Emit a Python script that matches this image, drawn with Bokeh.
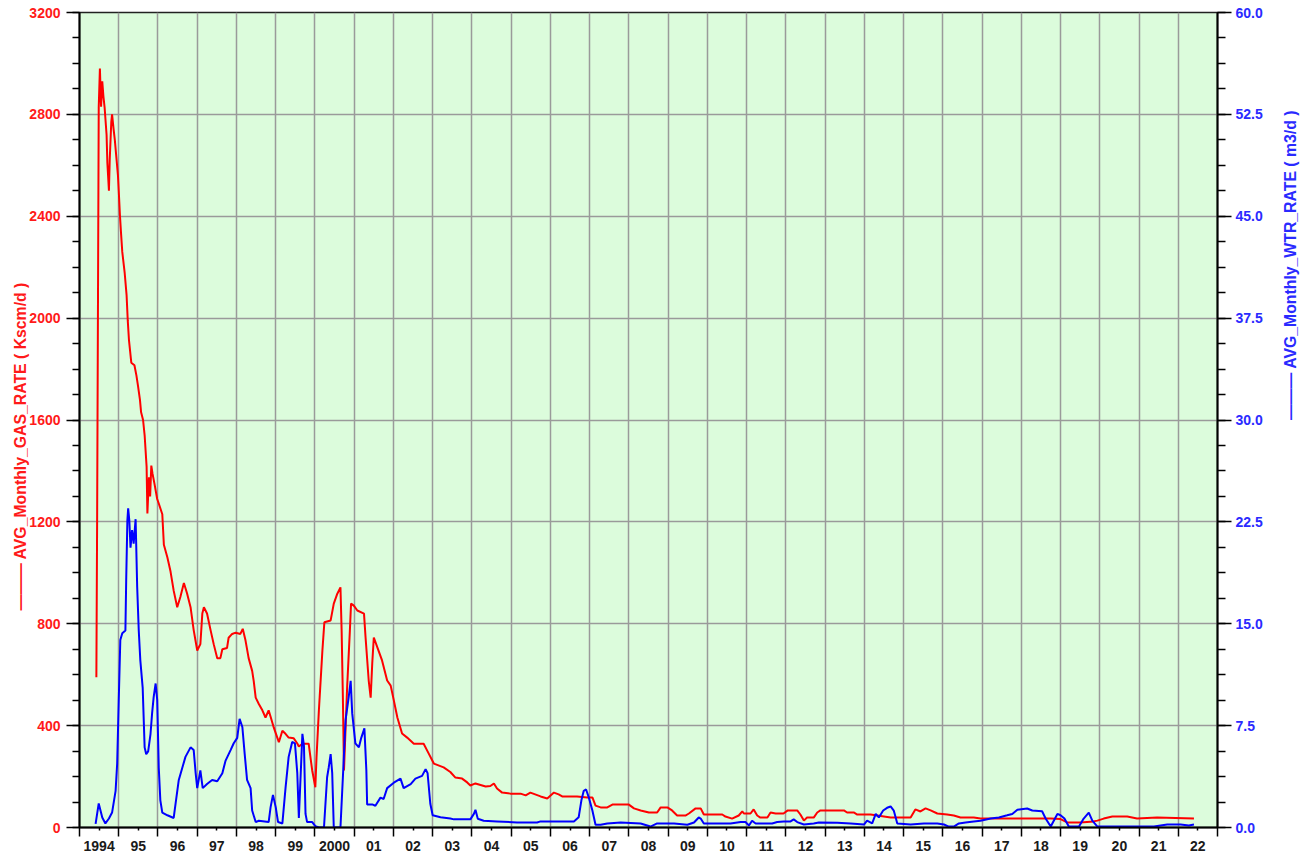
import math
from bokeh.plotting import figure
from bokeh.models import Range1d, LinearAxis, FixedTicker, PrintfTickFormatter
from bokeh.embed import file_html
from bokeh.resources import INLINE

# ---------------- data ----------------
gas_year = [1994.43, 1994.45, 1994.47, 1994.49, 1994.52, 1994.55, 1994.58, 1994.61, 1994.64, 1994.69,
            1994.71, 1994.75, 1994.77, 1994.81, 1994.83, 1994.87, 1994.90, 1994.94, 1994.98, 1995.00,
            1995.03, 1995.06, 1995.09, 1995.15, 1995.20, 1995.23, 1995.26, 1995.32, 1995.40, 1995.45,
            1995.49, 1995.54, 1995.57, 1995.62, 1995.66, 1995.71, 1995.73, 1995.77, 1995.80, 1995.83,
            1995.86, 1995.91, 1995.98, 1996.02, 1996.11, 1996.15, 1996.24, 1996.32, 1996.40, 1996.49,
            1996.57, 1996.66, 1996.74, 1996.83, 1996.91, 1997.00, 1997.08, 1997.13, 1997.17, 1997.25,
            1997.34, 1997.42, 1997.51, 1997.59, 1997.64, 1997.76, 1997.80, 1997.89, 1997.98, 1998.10,
            1998.16, 1998.23, 1998.31, 1998.40, 1998.44, 1998.49, 1998.57, 1998.66, 1998.74, 1998.82,
            1998.87, 1998.95, 1999.04, 1999.08, 1999.17, 1999.25, 1999.33, 1999.46, 1999.55, 1999.59,
            1999.68, 1999.80, 1999.84, 1999.93, 2000.01, 2000.04, 2000.10, 2000.19, 2000.24, 2000.40,
            2000.48, 2000.57, 2000.65, 2000.68, 2000.71, 2000.74, 2000.82, 2000.89, 2000.92, 2000.99,
            2001.08, 2001.25, 2001.29, 2001.37, 2001.42, 2001.46, 2001.50, 2001.59, 2001.71, 2001.84,
            2001.93, 2002.01, 2002.10, 2002.22, 2002.35, 2002.52, 2002.77, 2002.90, 2003.03, 2003.28,
            2003.45, 2003.58, 2003.75, 2003.88, 2003.96, 2004.09, 2004.35, 2004.47, 2004.56, 2004.64,
            2004.77, 2004.98, 2005.24, 2005.37, 2005.49, 2005.75, 2005.92, 2006.09, 2006.21, 2006.30,
            2006.68, 2006.94, 2007.07, 2007.15, 2007.28, 2007.45, 2007.58, 2008.00, 2008.13, 2008.30,
            2008.51, 2008.72, 2008.81, 2008.98, 2009.10, 2009.23, 2009.44, 2009.53, 2009.70, 2009.83,
            2009.91, 2010.38, 2010.46, 2010.63, 2010.80, 2010.89, 2010.93, 2011.10, 2011.18, 2011.27,
            2011.35, 2011.53, 2011.61, 2011.74, 2011.94, 2012.05, 2012.29, 2012.37, 2012.46, 2012.54,
            2012.71, 2012.80, 2012.88, 2013.48, 2013.56, 2013.73, 2013.82, 2014.16, 2014.67, 2015.18,
            2015.30, 2015.43, 2015.56, 2015.69, 2015.86, 2016.11, 2016.28, 2016.45, 2016.79, 2016.96,
            2017.47, 2018.49, 2018.75, 2019.00, 2019.17, 2019.51, 2019.84, 2019.94, 2020.10, 2020.32,
            2020.70, 2020.95, 2021.46, 2022.40]
gas_rate = [590, 1233, 2030, 2827, 2980, 2830, 2930, 2870, 2827, 2720,
            2610, 2500, 2620, 2770, 2800, 2740, 2700, 2630, 2560, 2500,
            2405, 2330, 2260, 2180, 2090, 1990, 1915, 1825, 1815, 1775,
            1735, 1680, 1630, 1600, 1540, 1417, 1233, 1375, 1300, 1421,
            1390, 1350, 1290, 1272, 1230, 1110, 1060, 1005, 930, 865,
            905, 960, 920, 865, 775, 695, 720, 840, 865, 840,
            775, 720, 665, 665, 700, 705, 745, 760, 765, 760,
            780, 735, 665, 615, 575, 510, 485, 460, 432, 460,
            435, 393, 353, 335, 380, 368, 353, 350, 330, 318,
            329, 329, 329, 224, 158, 276, 459, 695, 806, 813,
            879, 918, 943, 773, 526, 224, 550, 773, 879, 871,
            852, 840, 746, 577, 510, 644, 746, 707, 656, 577,
            557, 499, 432, 369, 353, 329, 329, 290, 251, 236,
            218, 196, 192, 177, 165, 173, 161, 163, 173, 153,
            137, 133, 133, 126, 137, 122, 114, 137, 130, 122,
            122, 118, 118, 86, 79, 79, 90, 90, 75, 67,
            59, 59, 79, 79, 67, 47, 47, 55, 75, 75,
            51, 51, 43, 35, 47, 63, 55, 55, 71, 47,
            39, 39, 59, 55, 55, 67, 67, 51, 27, 39,
            39, 59, 67, 67, 59, 59, 51, 51, 39, 39,
            71, 63, 75, 67, 55, 51, 47, 39, 39, 35,
            35, 35, 35, 33, 20, 20, 24, 27, 35, 43,
            43, 35, 39, 35]

wtr_year = [1994.41, 1994.49, 1994.58, 1994.66, 1994.75, 1994.83, 1994.92, 1994.96, 1995.00, 1995.04,
            1995.09, 1995.17, 1995.19, 1995.22, 1995.24, 1995.27, 1995.30, 1995.34, 1995.38, 1995.43,
            1995.47, 1995.51, 1995.55, 1995.61, 1995.66, 1995.70, 1995.75, 1995.81, 1995.85, 1995.89,
            1995.94, 1995.98, 1996.02, 1996.06, 1996.11, 1996.24, 1996.40, 1996.45, 1996.53, 1996.62,
            1996.70, 1996.83, 1996.91, 1996.96, 1997.00, 1997.08, 1997.14, 1997.25, 1997.38, 1997.51,
            1997.64, 1997.72, 1997.85, 1997.93, 1998.02, 1998.08, 1998.15, 1998.21, 1998.27, 1998.36,
            1998.40, 1998.49, 1998.57, 1998.82, 1998.87, 1998.93, 1999.00, 1999.06, 1999.17, 1999.25,
            1999.33, 1999.42, 1999.49, 1999.55, 1999.59, 1999.68, 1999.72, 1999.76, 1999.80, 1999.93,
            2000.01, 2000.10, 2000.23, 2000.31, 2000.35, 2000.40, 2000.44, 2000.48, 2000.65, 2000.72,
            2000.78, 2000.86, 2000.91, 2000.95, 2001.03, 2001.12, 2001.18, 2001.26, 2001.31, 2001.33,
            2001.46, 2001.54, 2001.67, 2001.75, 2001.84, 2002.01, 2002.18, 2002.26, 2002.44, 2002.56,
            2002.73, 2002.82, 2002.87, 2002.94, 2003.00, 2003.20, 2003.45, 2003.54, 2003.96, 2004.05,
            2004.09, 2004.15, 2004.30, 2004.64, 2005.15, 2005.66, 2005.75, 2006.60, 2006.72, 2006.79,
            2006.85, 2006.91, 2006.98, 2007.07, 2007.15, 2007.28, 2007.45, 2007.79, 2008.30, 2008.55,
            2008.72, 2009.15, 2009.49, 2009.66, 2009.78, 2009.83, 2009.91, 2010.59, 2010.85, 2010.97,
            2011.06, 2011.14, 2011.23, 2011.65, 2011.78, 2011.95, 2012.12, 2012.20, 2012.29, 2012.46,
            2012.71, 2012.84, 2013.31, 2013.65, 2013.99, 2014.07, 2014.20, 2014.29, 2014.37, 2014.48,
            2014.58, 2014.67, 2014.75, 2014.84, 2015.18, 2015.52, 2015.86, 2016.03, 2016.15, 2016.28,
            2016.41, 2016.58, 2016.79, 2016.96, 2017.22, 2017.43, 2017.64, 2017.77, 2017.90, 2018.15,
            2018.28, 2018.53, 2018.62, 2018.75, 2018.92, 2019.00, 2019.10, 2019.21, 2019.47, 2019.59,
            2019.72, 2019.81, 2019.94, 2020.70, 2021.38, 2021.72, 2022.06, 2022.27, 2022.40]
wtr_rate = [0.27, 1.77, 0.74, 0.3, 0.66, 1.1, 2.7, 4.7, 9.35, 13.8,
            14.3, 14.5, 18.2, 22.6, 23.5, 22.6, 20.6, 21.9, 20.9, 22.7,
            17.7, 14.5, 12.3, 10.3, 5.9, 5.4, 5.6, 6.9, 8.4, 9.6,
            10.6, 9.4, 4.4, 2.0, 1.1, 0.9, 0.7, 1.8, 3.5, 4.4,
            5.2, 5.9, 5.7, 4.0, 2.9, 4.2, 2.9, 3.2, 3.5, 3.4,
            4.0, 4.9, 5.7, 6.2, 6.6, 8.0, 7.4, 5.4, 3.5, 2.9,
            1.25, 0.4, 0.5, 0.4, 1.5, 2.4, 1.5, 0.4, 0.3, 2.9,
            5.2, 6.3, 6.2, 4.0, 0.7, 6.9, 6.0, 1.0, 0.4, 0.4,
            0.1, 0.0, 0.0, 3.7, 4.4, 5.4, 4.0, 0.0, 0.0, 4.2,
            7.9, 9.6, 10.8, 8.4, 6.2, 5.9, 6.6, 7.3, 4.2, 1.7,
            1.7, 1.6, 2.2, 2.1, 2.9, 3.3, 3.6, 2.9, 3.2, 3.6,
            3.8, 4.3, 4.0, 1.75, 0.9, 0.75, 0.66, 0.6, 0.6, 1.0,
            1.3, 0.64, 0.5, 0.45, 0.37, 0.37, 0.45, 0.45, 0.75, 2.0,
            2.7, 2.8, 2.2, 1.25, 0.2, 0.2, 0.3, 0.37, 0.3, 0.07,
            0.3, 0.3, 0.2, 0.37, 0.74, 0.66, 0.3, 0.3, 0.4, 0.4,
            0.15, 0.5, 0.3, 0.3, 0.4, 0.45, 0.45, 0.6, 0.4, 0.22,
            0.3, 0.37, 0.35, 0.3, 0.22, 0.5, 0.3, 1.0, 0.74, 1.25,
            1.45, 1.55, 1.25, 0.3, 0.22, 0.3, 0.3, 0.22, 0.07, 0.07,
            0.3, 0.37, 0.45, 0.5, 0.66, 0.74, 0.9, 1.0, 1.3, 1.4,
            1.25, 1.2, 0.66, 0.07, 1.0, 0.9, 0.66, 0.07, 0.07, 0.66,
            1.1, 0.5, 0.07, 0.07, 0.07, 0.22, 0.22, 0.15, 0.22]

year_bounds = list(range(1994, 2024))
year_labels = ["1994", "95", "96", "97", "98", "99", "2000", "01", "02", "03", "04", "05", "06", "07",
               "08", "09", "10", "11", "12", "13", "14", "15", "16", "17", "18", "19", "20", "21", "22"]
gas_ticks = [0, 400, 800, 1200, 1600, 2000, 2400, 2800, 3200]
gas_minor = list(range(0, 3201, 100))
wtr_ticks = [0.0, 7.5, 15.0, 22.5, 30.0, 37.5, 45.0, 52.5, 60.0]
wtr_minor = [i * 1.875 for i in range(33)]

GAS_TITLE = "AVG_Monthly_GAS_RATE ( Kscm/d )"
WTR_TITLE = "AVG_Monthly_WTR_RATE ( m3/d )"
DASH = "\u2014\u2014\u2014 "          # legend line swatch drawn in front of each axis title
NBSP = "\u00a0"

FONT = "Liberation Sans"
RED = "#ff0000"
BLUE = "#0000ff"
RED_TXT = "#ff1a1a"
BLUE_TXT = "#2a2aff"
GRID = "#9a9a9a"

# ---------------- figure ----------------
p = figure(width=1314, height=854, output_backend="svg", toolbar_location=None,
           x_range=Range1d(1994, 2023), y_range=Range1d(0, 3200))
p.extra_y_ranges = {"w": Range1d(0, 60)}
p.min_border_left = 79
p.min_border_right = 97
p.min_border_top = 12
p.min_border_bottom = 27
p.background_fill_color = "#dcfcdc"
p.border_fill_color = "white"
p.outline_line_color = "#222222"
p.outline_line_width = 1.5

# x axis: labels at mid-year, long ticks + grid at year boundaries
mid_years = [y + 0.5 for y in year_bounds[:-1]]
xt = FixedTicker(ticks=mid_years, minor_ticks=year_bounds)
xa = p.xaxis[0]
xa.ticker = xt
xa.major_label_overrides = {m: lab for m, lab in zip(mid_years, year_labels)}
xa.major_tick_out = 3
xa.major_tick_in = 0
xa.minor_tick_out = 9
xa.minor_tick_in = 0
xa.major_label_standoff = 4
xa.axis_line_width = 2
xa.axis_line_color = "black"
xa.major_tick_line_width = 1.5
xa.minor_tick_line_width = 1.5
xa.major_label_text_font = FONT
xa.major_label_text_font_style = "bold"
xa.major_label_text_font_size = "14px"
xa.major_label_text_color = "#1a1a1a"

p.xgrid.ticker = xt
p.xgrid.grid_line_color = None
p.xgrid.minor_grid_line_color = GRID
p.xgrid.minor_grid_line_width = 1.5

# left axis (gas)
yt = FixedTicker(ticks=gas_ticks, minor_ticks=gas_minor)
ya = p.yaxis[0]
ya.ticker = yt
ya.major_tick_out = 13
ya.major_tick_in = 0
ya.minor_tick_out = 7
ya.minor_tick_in = 0
ya.major_tick_line_width = 1.5
ya.minor_tick_line_width = 1.5
ya.axis_line_width = 2
ya.axis_line_color = "black"
ya.major_label_standoff = 6
ya.major_label_text_font = FONT
ya.major_label_text_font_style = "bold"
ya.major_label_text_font_size = "14px"
ya.major_label_text_color = RED_TXT
ya.axis_label = DASH + GAS_TITLE + NBSP * 12
ya.axis_label_standoff = -3
ya.axis_label_text_font = FONT
ya.axis_label_text_font_style = "bold"
ya.axis_label_text_font_size = "15.8px"
ya.axis_label_text_color = RED_TXT

p.ygrid.ticker = FixedTicker(ticks=gas_ticks)
p.ygrid.grid_line_color = GRID
p.ygrid.grid_line_width = 1.5

# right axis (water)
ra = LinearAxis(y_range_name="w", ticker=FixedTicker(ticks=wtr_ticks, minor_ticks=wtr_minor),
                formatter=PrintfTickFormatter(format="%.1f"))
ra.major_tick_out = 14
ra.major_tick_in = 0
ra.minor_tick_out = 8
ra.minor_tick_in = 0
ra.major_tick_line_width = 1.5
ra.minor_tick_line_width = 1.5
ra.axis_line_width = 2
ra.axis_line_color = "black"
ra.major_label_standoff = 4
ra.major_label_text_font = FONT
ra.major_label_text_font_style = "bold"
ra.major_label_text_font_size = "14px"
ra.major_label_text_color = BLUE_TXT
ra.axis_label = DASH + WTR_TITLE + NBSP * 13
ra.axis_label_standoff = 25
ra.axis_label_orientation = math.pi / 2
ra.axis_label_text_font = FONT
ra.axis_label_text_font_style = "bold"
ra.axis_label_text_font_size = "15.8px"
ra.axis_label_text_color = BLUE_TXT
p.add_layout(ra, "right")

# series
p.line(gas_year, gas_rate, line_color=RED, line_width=2)
p.line(wtr_year, wtr_rate, line_color=BLUE, line_width=2, y_range_name="w")

open("out.html", "w").write(file_html(p, INLINE))
